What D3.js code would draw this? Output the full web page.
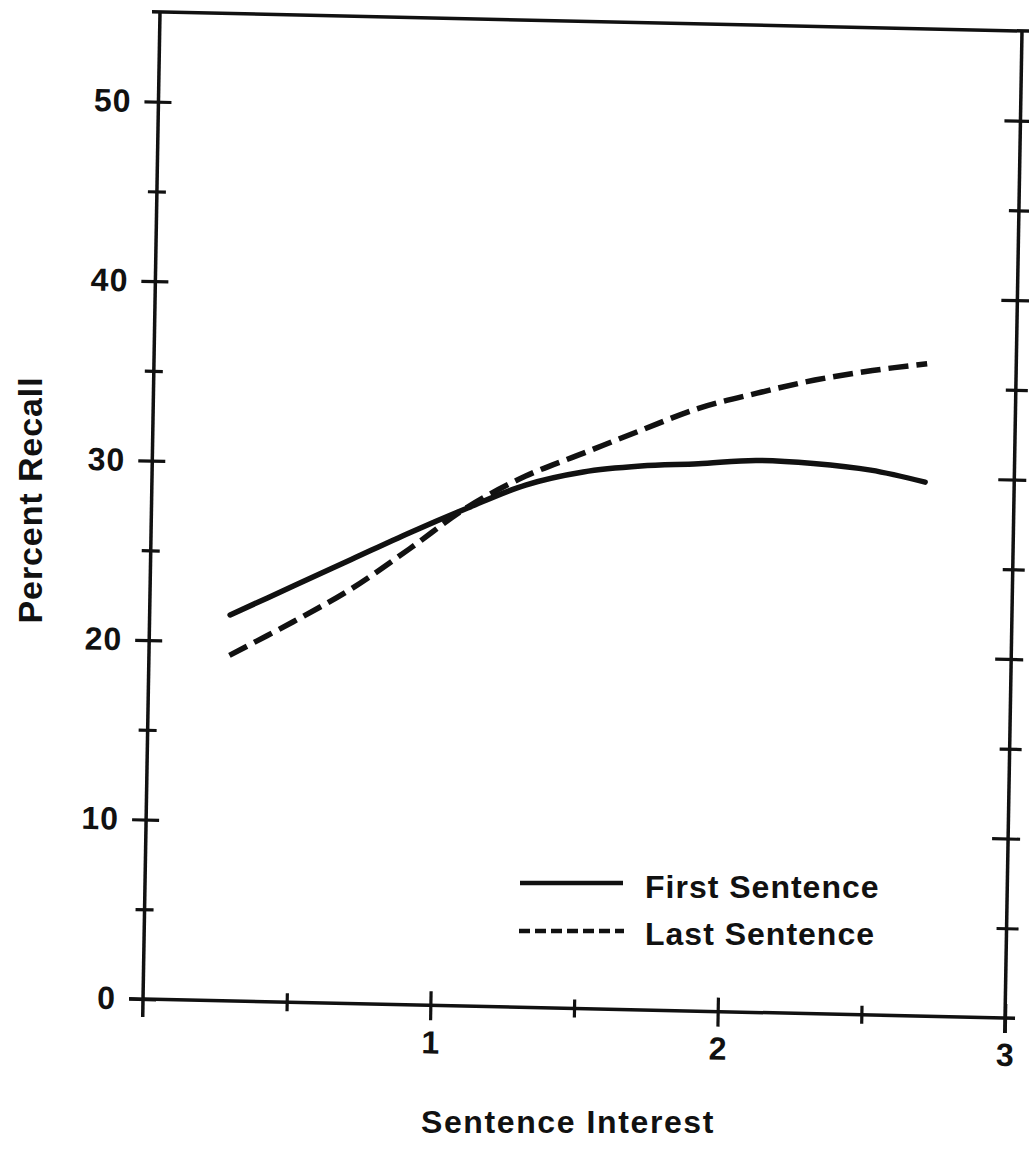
<!DOCTYPE html>
<html><head><meta charset="utf-8">
<script src="https://cdn.jsdelivr.net/npm/d3@7"></script>
<style>
body{margin:0;background:#fff}
text{font-family:"Liberation Sans",Arial,Helvetica,sans-serif;font-weight:bold;fill:#111}
</style>
</head><body>
<svg id="chart" width="1029" height="1151"></svg>
<script>
// ---- data ----
const interest = [0.28, 0.5, 0.7, 0.9, 1.1, 1.3, 1.5, 1.7, 1.9, 2.1, 2.3, 2.5, 2.69];
const firstSentence = [21.5, 23.2, 24.75, 26.3, 27.75, 29.1, 29.9, 30.3, 30.5, 30.75, 30.65, 30.35, 29.75];
const lastSentence  = [19.25, 21.2, 23.1, 25.4, 27.8, 29.6, 30.95, 32.3, 33.6, 34.5, 35.3, 35.9, 36.35];
const seriesNames = ["First Sentence", "Last Sentence"];
const yTickValues = [0, 5, 10, 15, 20, 25, 30, 35, 40, 45, 50];
const yLabelValues = [0, 10, 20, 30, 40, 50];
const rightTickValues = [5, 10, 15, 20, 25, 30, 35, 40, 45, 50];
const xTickValues = [0.5, 1, 1.5, 2, 2.5, 3];
const xLabelValues = [1, 2, 3];
const xTitle = "Sentence Interest";
const yTitle = "Percent Recall";

const svg = d3.select("#chart");
const W = 862, H = 987;
const x = d3.scaleLinear().domain([0, 3]).range([0, W]);
const y = d3.scaleLinear().domain([0, 55]).range([H, 0]);
const ink = "#111";

// slightly skewed scan: plot frame in an affine-transformed group
const g = svg.append("g").attr("transform", "matrix(1,0.022,-0.0172,1,160,12)");

// frame lines
g.append("line").attr("x1", -8).attr("x2", W + 8).attr("y1", 0).attr("y2", 0)
  .attr("stroke", ink).attr("stroke-width", 3.5);
g.append("line").attr("x1", 0).attr("x2", 0).attr("y1", 0).attr("y2", H + 18)
  .attr("stroke", ink).attr("stroke-width", 3.5);
g.append("line").attr("x1", W).attr("x2", W).attr("y1", 0).attr("y2", H + 15)
  .attr("stroke", ink).attr("stroke-width", 3.5);
g.append("line").attr("x1", 0).attr("x2", W + 10).attr("y1", H).attr("y2", H)
  .attr("stroke", ink).attr("stroke-width", 3.5);

// left axis
const yAxis = g.append("g").call(
  d3.axisLeft(y).tickValues(yTickValues).tickSize(0)
    .tickFormat(d => yLabelValues.includes(d) ? d : ""));
yAxis.select(".domain").remove();
yAxis.selectAll(".tick line")
  .attr("x1", d => d % 10 === 0 ? 13 : 9)
  .attr("x2", d => d % 10 === 0 ? -14 : -9)
  .attr("stroke", ink).attr("stroke-width", 3.2);
yAxis.selectAll(".tick text").attr("x", -27).attr("font-size", 32)
  .style("letter-spacing", "1px").attr("fill", ink);

// right axis
const rAxis = g.append("g").attr("transform", `translate(${W},0)`).call(
  d3.axisRight(y).tickValues(rightTickValues).tickSize(0).tickFormat(""));
rAxis.select(".domain").remove();
rAxis.selectAll(".tick line")
  .attr("x1", d => d % 10 === 0 ? -16 : -10)
  .attr("x2", 12)
  .attr("stroke", ink).attr("stroke-width", 3.2);

// bottom axis
const xAxis = g.append("g").attr("transform", `translate(0,${H})`).call(
  d3.axisBottom(x).tickValues(xTickValues).tickSize(0)
    .tickFormat(d => xLabelValues.includes(d) ? d : ""));
xAxis.select(".domain").remove();
xAxis.selectAll(".tick line")
  .attr("y1", d => Number.isInteger(d) ? -14 : -9)
  .attr("y2", d => Number.isInteger(d) ? 15 : 9)
  .attr("stroke", ink).attr("stroke-width", 3.2);
xAxis.selectAll(".tick text").attr("y", 48).attr("dy", 0).attr("font-size", 32).attr("fill", ink);
// left zero cross tick
g.append("line").attr("x1", -14).attr("x2", 0).attr("y1", y(0)).attr("y2", y(0))
  .attr("stroke", ink).attr("stroke-width", 3.2);

// curves
const line = d3.line().x(d => x(d[0])).y(d => y(d[1])).curve(d3.curveCatmullRom.alpha(0.5));
g.append("path").datum(interest.map((v, i) => [v, firstSentence[i]]))
  .attr("d", line).attr("fill", "none").attr("stroke", ink)
  .attr("stroke-width", 5.5).attr("stroke-linecap", "round");
g.append("path").datum(interest.map((v, i) => [v, lastSentence[i]]))
  .attr("d", line).attr("fill", "none").attr("stroke", ink)
  .attr("stroke-width", 5.5).attr("stroke-dasharray", "20,8");

// legend
const legend = svg.append("g");
legend.append("line").attr("x1", 520).attr("x2", 623).attr("y1", 883).attr("y2", 883)
  .attr("stroke", ink).attr("stroke-width", 4.5);
legend.append("line").attr("x1", 519).attr("x2", 624).attr("y1", 931).attr("y2", 931)
  .attr("stroke", ink).attr("stroke-width", 4.5).attr("stroke-dasharray", "11,5");
legend.selectAll("text.leg").data(seriesNames).enter().append("text")
  .attr("class", "leg").attr("x", 645).attr("y", (d, i) => i === 0 ? 898 : 945)
  .attr("font-size", 32).style("letter-spacing", "1px").text(d => d);

// axis titles
svg.append("text").attr("x", 568).attr("y", 1133).attr("text-anchor", "middle")
  .attr("font-size", 32).style("letter-spacing", "1.6px").text(xTitle);
svg.append("text").attr("transform", "translate(42,500) rotate(-90)")
  .attr("text-anchor", "middle").attr("font-size", 34)
  .style("letter-spacing", "0.9px").text(yTitle);
</script>
</body></html>
